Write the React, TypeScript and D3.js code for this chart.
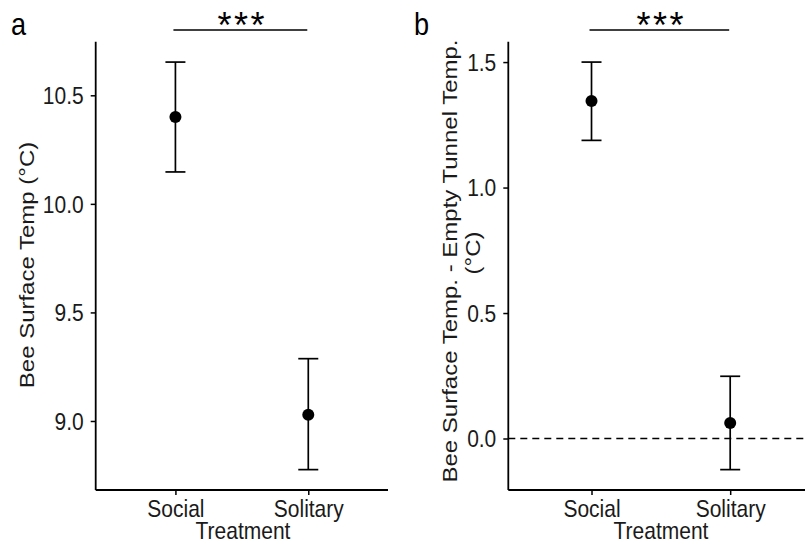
import React, { useEffect, useRef } from 'react';
import * as d3 from 'd3';

// chart data
const treatments = ['Social', 'Solitary'];
const tempMean = [10.4, 9.029];
const tempLow = [10.147, 8.776];
const tempHigh = [10.653, 9.287];
const diffMean = [1.345, 0.062];
const diffLow = [1.188, -0.124];
const diffHigh = [1.5, 0.248];
const tempTicks = [9.0, 9.5, 10.0, 10.5];
const diffTicks = [0.0, 0.5, 1.0, 1.5];

const FONT = '"Liberation Sans", Arial, Helvetica, sans-serif';
// the source figure is squeezed sideways, so glyphs are narrower than tall
const SQ = 0.875;

function drawPanel(svg: any, opts: any) {
  const { left, right, top, bottom, mean, low, high, ticks, letter, titleLines } = opts;

  // ggplot style 5% expansion on the y range
  const lo = d3.min(low) as number;
  const hi = d3.max(high) as number;
  const pad = (hi - lo) * 0.05;
  const y = d3.scaleLinear().domain([lo - pad, hi + pad]).range([bottom, top]);
  const x = d3.scalePoint().domain(treatments).range([left, right]).padding(0.6);

  const g = svg.append('g');

  if (opts.zeroLine) {
    g.append('line')
      .attr('x1', left).attr('x2', 805)
      .attr('y1', y(0)).attr('y2', y(0))
      .attr('stroke', 'black').attr('stroke-width', 1.5)
      .attr('stroke-dasharray', '7,5');
  }

  // y axis
  const yAxis = d3.axisLeft(y).tickValues(ticks).tickSize(5).tickFormat(d3.format('.1f'));
  const ya = g.append('g').attr('transform', `translate(${left},0)`).call(yAxis);
  ya.select('.domain').attr('d', `M0,${top}V${bottom}`).attr('stroke-width', 1.8);
  ya.selectAll('.tick line').attr('stroke-width', 1.5);
  ya.selectAll('text')
    .attr('x', 0).attr('dy', '0.35em')
    .attr('transform', `translate(-12,0) scale(${SQ},1)`)
    .attr('font-size', 24).attr('font-family', FONT).attr('fill', '#1a1a1a');

  // x axis
  const xAxis = d3.axisBottom(x).tickSize(5);
  const xa = g.append('g').attr('transform', `translate(0,${bottom})`).call(xAxis);
  xa.select('.domain').attr('d', `M${left},0H${right}`).attr('stroke-width', 1.8);
  xa.selectAll('.tick line').attr('stroke-width', 1.5);
  xa.selectAll('text')
    .attr('y', 0).attr('dy', 0)
    .attr('transform', `translate(0,27) scale(${SQ},1)`)
    .attr('font-size', 24).attr('font-family', FONT).attr('fill', '#1a1a1a');

  // error bars
  const bars = g.selectAll('g.bar').data(treatments).enter().append('g');
  bars.append('line')
    .attr('x1', (d: string) => x(d)).attr('x2', (d: string) => x(d))
    .attr('y1', (d: string, i: number) => y(low[i])).attr('y2', (d: string, i: number) => y(high[i]))
    .attr('stroke', 'black').attr('stroke-width', 1.7);
  [low, high].forEach((arr: number[]) => {
    bars.append('line')
      .attr('x1', (d: string) => (x(d) as number) - 10).attr('x2', (d: string) => (x(d) as number) + 10)
      .attr('y1', (d: string, i: number) => y(arr[i])).attr('y2', (d: string, i: number) => y(arr[i]))
      .attr('stroke', 'black').attr('stroke-width', 1.7);
  });
  bars.append('circle')
    .attr('cx', (d: string) => x(d)).attr('cy', (d: string, i: number) => y(mean[i]))
    .attr('r', 6).attr('fill', 'black');

  // significance bracket
  const sx1 = (x('Social') as number) - 2;
  const sx2 = (x('Solitary') as number) - 1;
  g.append('line').attr('x1', sx1).attr('x2', sx2).attr('y1', 30).attr('y2', 30)
    .attr('stroke', 'black').attr('stroke-width', 1.5);
  g.append('text')
    .attr('transform', `translate(${(sx1 + sx2) / 2 + 2},38)`)
    .attr('text-anchor', 'middle').attr('font-size', 36).attr('font-family', FONT)
    .attr('letter-spacing', 2.5)
    .text('***');

  // x title
  g.append('text')
    .attr('transform', `translate(${opts.treatX},539) scale(${SQ},1)`)
    .attr('text-anchor', 'middle')
    .attr('font-size', 24).attr('font-family', FONT).attr('fill', '#1a1a1a')
    .text('Treatment');

  // y title, one or two lines
  titleLines.forEach((t: string, i: number) => {
    g.append('text')
      .attr('transform', `translate(${opts.titleX[i]},${opts.titleY[i]}) rotate(-90) scale(1,${SQ})`)
      .attr('text-anchor', 'middle').attr('dy', '0.35em')
      .attr('font-size', 24).attr('font-family', FONT).attr('fill', '#1a1a1a')
      .text(t);
  });

  // panel letter
  g.append('text')
    .attr('transform', `translate(${opts.letterX},35) scale(${SQ},1)`)
    .attr('font-size', 31).attr('font-family', FONT)
    .text(letter);
}

export default function App() {
  const ref = useRef<SVGSVGElement>(null);

  useEffect(() => {
    const svg = d3.select(ref.current);
    svg.selectAll('*').remove();

    drawPanel(svg, {
      left: 95.7, right: 388, top: 41.7, bottom: 490,
      mean: tempMean, low: tempLow, high: tempHigh, ticks: tempTicks,
      letter: 'a', letterX: 11, titleX: [27], titleY: [265], treatX: 243,
      titleLines: ['Bee Surface Temp (°C)'], zeroLine: false,
    });

    drawPanel(svg, {
      left: 508.3, right: 813.4, top: 41.7, bottom: 490,
      mean: diffMean, low: diffLow, high: diffHigh, ticks: diffTicks,
      letter: 'b', letterX: 414, titleX: [450, 473], titleY: [261, 253], treatX: 661,
      titleLines: ['Bee Surface Temp. - Empty Tunnel Temp.', '(°C)'], zeroLine: true,
    });
  }, []);

  return (
    <svg
      ref={ref}
      width={805}
      height={543}
      style={{ position: 'absolute', left: 0, top: 0, background: 'white' }}
    />
  );
}
